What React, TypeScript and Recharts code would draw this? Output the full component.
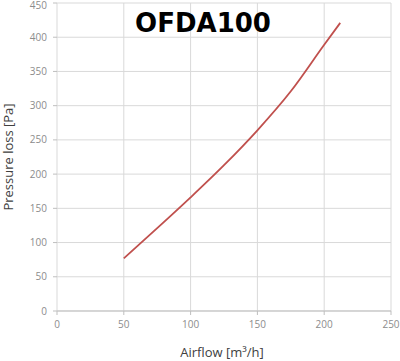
import { LineChart, Line, XAxis, YAxis, CartesianGrid } from "recharts";

const airflow = [50, 75, 100, 125, 150, 175, 200, 212];
const pressure = [77, 121, 166, 213, 264, 321, 389, 421];
const xTicks = [0, 50, 100, 150, 200, 250];
const yTicks = [0, 50, 100, 150, 200, 250, 300, 350, 400, 450];

const data = airflow.map((a, i) => ({ airflow: a, pressure: pressure[i] }));

const tickStyle = { fill: "#8c8c8c", fontSize: 10, fontFamily: "Open Sans, sans-serif" };
const labelStyle = { fill: "#404040", fontSize: 13, fontFamily: "Open Sans, sans-serif" };

function App() {
  return (
    <div style={{ position: "absolute", left: 0, top: 0, width: 400, height: 361, background: "#fff" }}>
      <LineChart
        width={400}
        height={361}
        data={data}
        margin={{ top: 3, right: 9, left: 0, bottom: 0 }}
      >
        <CartesianGrid stroke="#d9d9d9" strokeWidth={1} />
        <XAxis
          dataKey="airflow"
          type="number"
          domain={[0, 250]}
          ticks={xTicks}
          height={50}
          tick={tickStyle}
          tickSize={4}
          tickMargin={6}
          stroke="#bfbfbf"
        />
        <YAxis
          type="number"
          domain={[0, 450]}
          ticks={yTicks}
          width={57}
          tick={tickStyle}
          tickSize={4}
          tickMargin={6}
          axisLine={false}
          stroke="#bfbfbf"
        />
        <Line
          type="monotone"
          dataKey="pressure"
          stroke="#c0504d"
          strokeWidth={1.8}
          dot={false}
          isAnimationActive={false}
        />
        <text x={222} y={357} textAnchor="middle" style={labelStyle}>
          Airflow [m³/h]
        </text>
        <text
          x={13}
          y={157}
          textAnchor="middle"
          transform="rotate(-90 13 157)"
          style={labelStyle}
        >
          Pressure loss [Pa]
        </text>
        <text
          x={203}
          y={32}
          textAnchor="middle"
          style={{ fontFamily: "DejaVu Sans, sans-serif", fontWeight: "bold", fontSize: 26, fill: "#000" }}
        >
          OFDA100
        </text>
      </LineChart>
    </div>
  );
}

export default App;
